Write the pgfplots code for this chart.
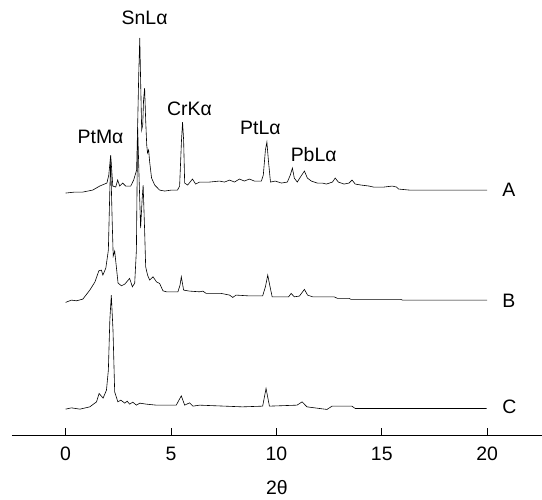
\documentclass[border=0pt]{standalone}
\usepackage{pgfplots}
\pgfplotsset{compat=1.18}
\usepackage{fontspec}
\setmainfont{Liberation Sans}
\begin{document}
\fontsize{19.5}{22}\selectfont
\begin{tikzpicture}
\begin{axis}[
  scale only axis,
  width=530bp, height=435bp,
  xmin=-2.55, xmax=22.6, ymin=0, ymax=435,
  axis x line*=bottom, axis y line=none,
  xtick={0,5,10,15,20},
  tick align=inside,
  major tick length=7bp,
  tick style={black, line width=0.8bp},
  axis line style={black, line width=0.8bp},
  /pgf/number format/assume math mode=true,
  ticklabel style={font=\fontsize{19.5}{22}\selectfont},
  xticklabel style={yshift=-5bp},
  xlabel={2θ},
  xlabel style={at={(axis description cs:0.5,0)}, anchor=center, yshift=-52bp, font=\fontsize{19.5}{22}\selectfont},
  clip=false,
  cycle list={{black, mark=none}},
  every axis plot/.append style={line width=0.6bp},
]
% Series A
\addplot coordinates {(0,242)(0.44,243)(0.82,243)(1.29,245)(1.62,249)(1.96,252)(2.05,260)(2.14,280)(2.19,265)(2.24,249)(2.38,248)(2.47,255)(2.57,249)(2.71,252)(2.85,249)(3.09,249)(3.23,255)(3.37,265)(3.42,310)(3.47,360)(3.52,397)(3.56,355)(3.61,305)(3.66,310)(3.70,335)(3.75,347)(3.80,315)(3.85,290)(3.89,282)(3.94,285)(3.99,273)(4.08,257)(4.23,250)(4.46,245)(4.70,244)(5.03,245)(5.31,245)(5.41,249)(5.50,295)(5.55,313)(5.60,295)(5.65,252)(5.79,250)(6.02,256)(6.17,251)(6.36,253)(6.83,253)(7.30,254)(7.54,253)(7.78,255)(8.01,253)(8.25,256)(8.48,254)(8.72,256)(8.96,254)(9.29,254)(9.38,260)(9.48,285)(9.55,293)(9.62,275)(9.72,253)(9.95,254)(10.24,252)(10.52,253)(10.66,260)(10.76,267)(10.85,257)(10.99,253)(11.14,258)(11.33,264)(11.47,257)(11.66,254)(11.94,252)(12.18,252)(12.37,251)(12.66,253)(12.79,257)(12.94,253)(13.21,251)(13.45,252)(13.59,255)(13.74,251)(14.02,250)(14.40,249)(14.6,248)(15.1,248)(15.5,249)(15.7,248)(15.8,246)(16.3,245)(20.0,245)};
% Series B
\addplot coordinates {(0,132.7)(0.28,135)(0.52,134.3)(0.82,136)(1.15,145)(1.39,153)(1.58,164.3)(1.70,165)(1.77,160)(1.91,167)(2.03,185)(2.10,245)(2.14,275)(2.21,215)(2.26,179)(2.33,184)(2.40,170)(2.49,152)(2.65,149.3)(2.81,151)(3.04,156.7)(3.17,148.3)(3.28,152)(3.36,185)(3.42,308)(3.49,255)(3.56,207)(3.63,235)(3.68,250)(3.75,205)(3.80,168.3)(3.89,160)(3.99,155)(4.15,158.3)(4.31,153.3)(4.46,151.7)(4.62,144.3)(4.78,143.3)(5.33,143.3)(5.43,150)(5.49,158.3)(5.60,145)(5.88,144)(6.36,143.3)(6.51,144)(6.67,141.7)(7.38,141.7)(7.78,140)(7.93,137.7)(8.09,140)(8.64,139.3)(9.35,139.3)(9.48,148.3)(9.59,160)(9.70,148.3)(9.80,138.3)(10.58,138.3)(10.70,141.7)(10.85,138.3)(11.09,139)(11.33,145.7)(11.48,140)(11.72,138.3)(12.74,138.3)(12.90,136.7)(13.45,136.7)(13.54,135.7)(15.90,135.7)(15.98,135)(20.0,135)};
% Series C
\addplot coordinates {(0,26)(0.28,27.3)(0.68,26)(1.15,28.3)(1.47,33.3)(1.59,41.7)(1.78,37)(1.94,45)(2.03,65)(2.10,115)(2.17,140)(2.25,105)(2.33,43.3)(2.48,33.3)(2.62,35)(2.81,32)(2.92,34)(3.04,31)(3.19,33)(3.36,30)(3.52,32)(3.83,31)(4.31,30)(5.25,30)(5.49,39.3)(5.65,30)(5.88,32.3)(6.04,29)(6.36,30)(8.39,28.3)(9.35,29)(9.51,46.7)(9.67,29)(10.98,30)(11.22,33.3)(11.45,28.3)(12.40,25.7)(12.64,29)(13.58,29)(13.74,26.7)(19.97,26.7)};
\node[anchor=west] at (axis cs:20.4,245) {A};
\node[anchor=west] at (axis cs:20.4,134) {B};
\node[anchor=west] at (axis cs:20.4,28) {C};
\node at (axis cs:3.75,417) {SnLα};
\node at (axis cs:1.66,298) {PtMα};
\node at (axis cs:5.88,326) {CrKα};
\node at (axis cs:9.24,307) {PtLα};
\node at (axis cs:11.77,280) {PbLα};
\coordinate (ll) at (axis cs:-3.11,-64);
\coordinate (ur) at (axis cs:22.6,435);
\end{axis}
\pgfresetboundingbox
\path (ll) rectangle (ur);
\end{tikzpicture}
\end{document}
